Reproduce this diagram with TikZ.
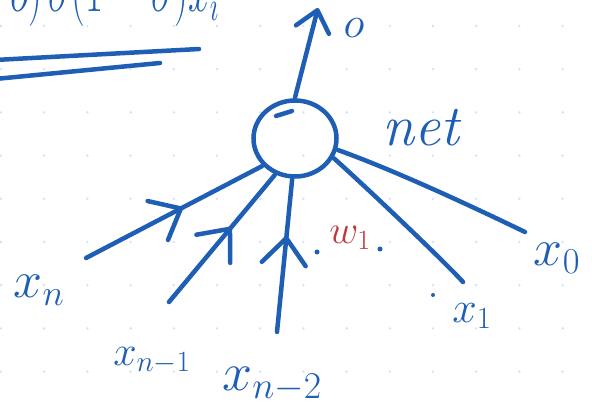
\documentclass[tikz,border=0pt]{standalone}
\usepackage{fix-cm}
\usepackage{graphicx}
\usetikzlibrary{arrows.meta,decorations.markings,shapes.geometric}
\definecolor{ink}{RGB}{30,94,180}
\definecolor{inkred}{RGB}{192,58,60}
\definecolor{griddot}{RGB}{208,226,248}
\begin{document}
\begin{tikzpicture}[x=1pt,y=-1pt,
  pen/.style={draw=ink,line width=4.5pt,line cap=round,line join=round},
  midarrow/.style={decoration={markings,mark=at position #1 with {\arrow{Straight Barb[length=26pt,width=44pt,round]}}},postaction={decorate}},
  lab/.style={text=ink,inner sep=0pt},
  neuron/.style={ellipse,draw=ink,line width=4.5pt,minimum width=83pt,minimum height=76pt,inner sep=0pt,outer sep=3pt}]
\path[use as bounding box] (0,0) rectangle (592,409);
\clip (0,0) rectangle (592,409);
\fill[white] (0,0) rectangle (592,409);
% dotted grid
\foreach \i in {0,...,13} \foreach \j in {0,...,8}
  \fill[griddot] ({1+43.2*\i},{26+43.2*\j}) circle (1.3pt);
% formula at top, cut by the upper edge as in the reference
\node[lab,anchor=base west,font=\fontsize{60}{60}\selectfont] (formula) at (10,12) {\scalebox{0.65}[1]{$o)\,\sigma(1-\sigma)x_i$}};
% double underline
\draw[pen] (-5,60) -- (199,49);
\draw[pen] (-5,79) -- (160,63);
% neuron
\node[neuron] (c) at (295,138.5) {};
\draw[pen] (276,116) -- (292,111);
\node[lab,font=\fontsize{58}{60}\selectfont\itshape] (net) at (421,128) {net};
% output
\coordinate (otip) at (318,8);
\draw[pen,-{Straight Barb[length=20pt,width=34pt,round]}] (c.90) -- (otip);
\node[lab,font=\fontsize{44}{46}\selectfont] (o) at (354,28) {$o$};
% inputs
\node[lab,font=\fontsize{52}{56}\selectfont] (xn) at (39,290) {$x_n$};
\node[lab,font=\fontsize{42}{44}\selectfont] (xn1) at (152,361) {$x_{n-1}$};
\node[lab,font=\fontsize{54}{56}\selectfont] (xn2) at (272,384) {$x_{n-2}$};
\node[lab,font=\fontsize{44}{46}\selectfont] (x1) at (472,316) {$x_1$};
\node[lab,font=\fontsize{52}{56}\selectfont] (x0) at (557,258) {$x_0$};
\node[lab,text=inkred,font=\fontsize{40}{44}\selectfont] (w1) at (350,238) {$w_1$};
\coordinate (exn) at (86,258);
\coordinate (exn1) at (169,302);
\coordinate (exn2) at (277,332);
\coordinate (ex1) at (463,282);
\coordinate (ex0) at (525,232);
\draw[pen,midarrow=0.55] (exn) -- (c.220);
\draw[pen,midarrow=0.59] (exn1) -- (c.241);
\draw[pen,midarrow=0.63] (exn2) -- (c.266);
\draw[pen] (ex1) .. controls (445,262) and (365,186) .. (c.333);
\draw[pen] (ex0) .. controls (500,220) and (405,174) .. (c.345);
% pen dots
\fill[ink] (317,252) circle (2.5pt);
\fill[ink] (380,249) circle (2.5pt);
\fill[ink] (433,295) circle (2pt);
\end{tikzpicture}
\end{document}
